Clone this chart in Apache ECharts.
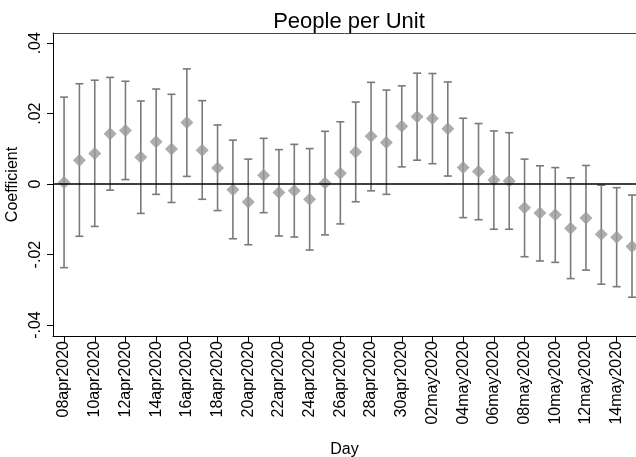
<!DOCTYPE html>
<html>
<head>
<meta charset="utf-8">
<script src="https://cdn.jsdelivr.net/npm/echarts@6/dist/echarts.min.js"></script>
<style>
  html, body { margin: 0; padding: 0; background: #fff; }
  #chart { width: 636px; height: 457px; }
</style>
</head>
<body>
<div id="chart"></div>
<script>
// Daily coefficients with 95% confidence bounds
const days = [
  '08apr2020','09apr2020','10apr2020','11apr2020','12apr2020','13apr2020','14apr2020','15apr2020',
  '16apr2020','17apr2020','18apr2020','19apr2020','20apr2020','21apr2020','22apr2020','23apr2020',
  '24apr2020','25apr2020','26apr2020','27apr2020','28apr2020','29apr2020','30apr2020','01may2020',
  '02may2020','03may2020','04may2020','05may2020','06may2020','07may2020','08may2020','09may2020',
  '10may2020','11may2020','12may2020','13may2020','14may2020','15may2020'
];
const coef = [
  0.0005, 0.0068, 0.0087, 0.0143, 0.0152, 0.0076, 0.0120, 0.0100, 0.0175, 0.0096,
  0.0046, -0.0016, -0.0051, 0.0025, -0.0024, -0.0019, -0.0043, 0.0003, 0.0031, 0.0091,
  0.0136, 0.0118, 0.0164, 0.0191, 0.0186, 0.0157, 0.0047, 0.0036, 0.0012, 0.0009,
  -0.0067, -0.0082, -0.0087, -0.0125, -0.0096, -0.0142, -0.0151, -0.0177
];
const upper = [
  0.0247, 0.0285, 0.0295, 0.0303, 0.0292, 0.0236, 0.0270, 0.0255, 0.0327, 0.0237,
  0.0168, 0.0125, 0.0071, 0.0130, 0.0098, 0.0113, 0.0101, 0.0150, 0.0177, 0.0233,
  0.0289, 0.0267, 0.0279, 0.0315, 0.0314, 0.0290, 0.0187, 0.0172, 0.0151, 0.0146,
  0.0071, 0.0052, 0.0047, 0.0018, 0.0053, -0.0003, -0.0010, -0.0031
];
const lower = [
  -0.0237, -0.0148, -0.0120, -0.0017, 0.0013, -0.0083, -0.0029, -0.0052, 0.0022, -0.0043,
  -0.0075, -0.0155, -0.0172, -0.0081, -0.0147, -0.0150, -0.0187, -0.0144, -0.0113, -0.0050,
  -0.0019, -0.0029, 0.0049, 0.0068, 0.0058, 0.0023, -0.0095, -0.0101, -0.0128, -0.0128,
  -0.0206, -0.0218, -0.0222, -0.0268, -0.0244, -0.0284, -0.0291, -0.0321
];
const yTicks = [-0.04, -0.02, 0, 0.02, 0.04];
const xTickIdx = days.map((d, i) => i).filter(i => i % 2 === 0);

const FONT = '"Liberation Sans", Arial, Helvetica, sans-serif';
const fmtY = v => {
  if (Math.abs(v) < 1e-9) return '0';
  return v.toFixed(2).replace('0.', '.');
};

const chart = echarts.init(document.getElementById('chart'), null, { renderer: 'canvas' });

const xMin = -0.72, xMax = 37.26;

chart.setOption({
  animation: false,
  backgroundColor: '#ffffff',
  title: {
    text: 'People per Unit',
    left: 344, top: 6, textAlign: 'center',
    textStyle: { fontFamily: FONT, fontSize: 22, fontWeight: 'normal', color: '#000' }
  },
  grid: { left: 53, right: 0, top: 33, bottom: 121, outerBoundsMode: 'none', containLabel: false },
  xAxis: [{
    type: 'value', min: xMin, max: xMax,
    name: 'Day', nameLocation: 'middle', nameGap: 106,
    nameTextStyle: { fontFamily: FONT, fontSize: 16, color: '#000' },
    splitLine: { show: false },
    axisLine: { show: true, onZero: false, lineStyle: { color: '#000', width: 1 } },
    axisTick: { show: true, length: 6, customValues: xTickIdx, lineStyle: { color: '#000' } },
    axisLabel: {
      customValues: xTickIdx, rotate: 90, margin: 5,
      fontFamily: FONT, fontSize: 16, color: '#000',
      formatter: v => days[Math.round(v)] || ''
    }
  }, {
    type: 'value', position: 'top', min: xMin, max: xMax,
    splitLine: { show: false },
    axisLine: { show: true, onZero: false, lineStyle: { color: '#444', width: 1 } },
    axisTick: { show: false }, axisLabel: { show: false }
  }],
  yAxis: {
    type: 'value', min: -0.0431, max: 0.0429,
    name: 'Coefficient', nameLocation: 'middle', nameGap: 29,
    nameTextStyle: { fontFamily: FONT, fontSize: 16, color: '#000' },
    splitLine: { show: false },
    axisLine: { show: true, onZero: false, lineStyle: { color: '#000', width: 1 } },
    axisTick: { show: true, length: 6, customValues: yTicks, lineStyle: { color: '#000' } },
    axisLabel: {
      customValues: yTicks, rotate: 90, margin: 9,
      fontFamily: FONT, fontSize: 16, color: '#000',
      formatter: fmtY
    }
  },
  series: [{
    type: 'custom',
    silent: true,
    data: days.map((d, i) => [i, lower[i], upper[i]]),
    renderItem: (params, api) => {
      const i = api.value(0);
      const lo = api.coord([i, api.value(1)]);
      const hi = api.coord([i, api.value(2)]);
      const hw = 4;
      const style = { stroke: '#7a7a7a', lineWidth: 1.6 };
      return {
        type: 'group',
        children: [
          { type: 'line', shape: { x1: lo[0], y1: lo[1], x2: hi[0], y2: hi[1] }, style },
          { type: 'line', shape: { x1: hi[0] - hw, y1: hi[1], x2: hi[0] + hw, y2: hi[1] }, style },
          { type: 'line', shape: { x1: lo[0] - hw, y1: lo[1], x2: lo[0] + hw, y2: lo[1] }, style }
        ]
      };
    },
    z: 2
  }, {
    type: 'scatter',
    silent: true,
    symbol: 'diamond',
    symbolSize: 13,
    itemStyle: { color: '#999999' },
    data: days.map((d, i) => [i, coef[i]]),
    markLine: {
      silent: true, symbol: 'none', label: { show: false },
      lineStyle: { color: '#000', width: 1.5, type: 'solid' },
      data: [{ yAxis: 0 }]
    },
    z: 3
  }]
});
</script>
</body>
</html>
